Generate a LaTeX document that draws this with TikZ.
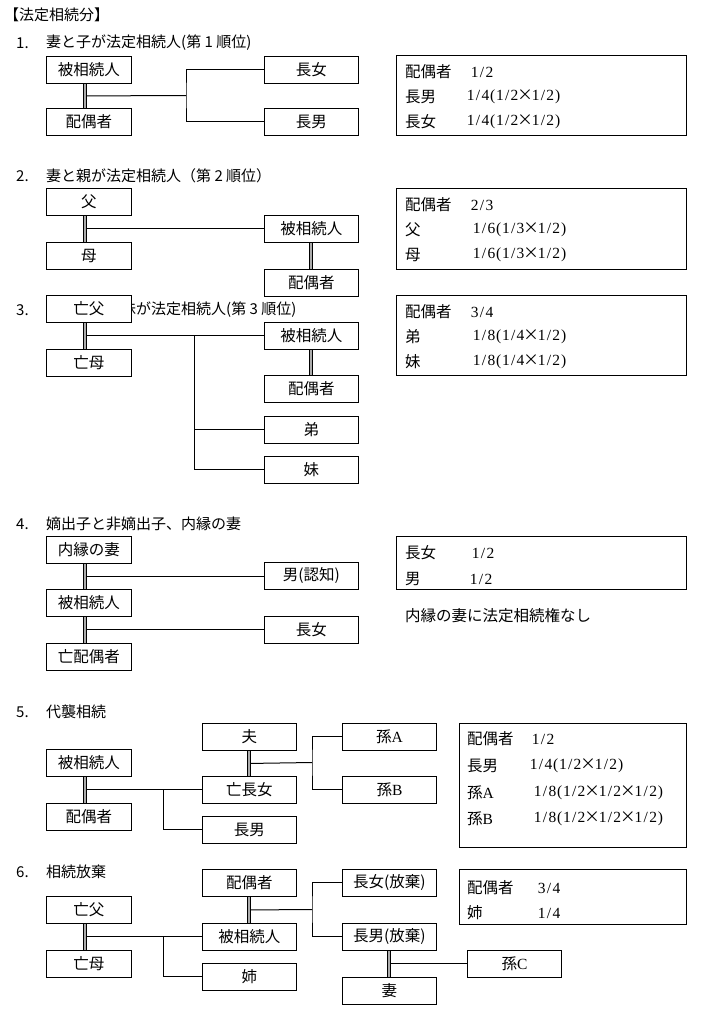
\documentclass[tikz,border=0pt]{standalone}
\usepackage{fontspec}
\setmainfont{Noto Sans CJK JP}
\newfontfamily\numf{Liberation Serif}
\newfontfamily\cjkf{Noto Sans CJK JP}
\usetikzlibrary{calc}
\newcommand\bxf{\fontsize{15.5}{18}\selectfont}
\newcommand\tif{\fontsize{15}{18}\selectfont}
\newcommand\nmf{\numf\fontsize{15.5}{18}\selectfont}
\newcommand\hwstr[1]{\hwloop#1\relax}
\def\hwloop#1{\ifx\relax#1\else\hwchar{#1}\expandafter\hwloop\fi}
\def\hwchar#1{\ifx×#1\makebox[0.9em]{\cjkf #1}\else\makebox[0.47em]{#1}\fi}
\tikzset{
  pb/.style={draw, line width=0.9pt, fill=white, inner sep=0pt, anchor=north west, font=\bxf, minimum height=27pt},
  lb/.style={pb, minimum width=85pt},
  mb/.style={pb, minimum width=94pt},
  tb/.style={draw, line width=0.9pt, inner sep=0pt, anchor=north west},
  tt/.style={anchor=west, inner sep=0pt, font=\bxf},
  tv/.style={anchor=west, inner sep=0pt, font=\nmf},
  ttl/.style={anchor=west, inner sep=0pt, font=\tif},
  ln/.style={line width=1pt},
  dl/.style={line width=1pt, double=gray!65, double distance=2pt},
}
\begin{document}
\begin{tikzpicture}[x=1pt,y=-1pt]
\useasboundingbox (0,0) rectangle (707,1020);
\fill[white] (0,0) rectangle (707,1020);

% headings
\node[ttl] (h0) at (4,15) {【法定相続分】};
\node[ttl] (n1) at (16,43) {1.};
\node[ttl] (s1) at (46,43) {妻と子が法定相続人(第 1 順位)};
\node[ttl] (n2) at (16,176) {2.};
\node[ttl] (s2) at (46,176) {妻と親が法定相続人（第 2 順位）};
\node[ttl] (n3) at (16,310) {3.};
\node[ttl] (s3) at (46,310) {妻と兄弟姉妹が法定相続人(第 3 順位)};
\node[ttl] (n4) at (16,524) {4.};
\node[ttl] (s4) at (46,524) {嫡出子と非嫡出子、内縁の妻};
\node[ttl] (n5) at (16,712) {5.};
\node[ttl] (s5) at (46,712) {代襲相続};
\node[ttl] (n6) at (16,872) {6.};
\node[ttl] (s6) at (46,872) {相続放棄};

% ---------- section 1
\node[lb] (a1) at (46,56) {被相続人};
\node[lb] (b1) at (46,108) {配偶者};
\node[mb] (c1) at (264,56) {長女};
\node[mb] (d1) at (264,108) {長男};
\coordinate (m1) at ($([xshift=-3.5pt]a1.south)!.5!([xshift=-3.5pt]b1.north)$);
\coordinate (j1) at (186,95.5);
\draw[ln] (m1) -- (j1);
\draw[ln] (c1.west) -| (j1) |- (d1.west);
\draw[dl] ([xshift=-3.5pt]a1.south) -- ([xshift=-3.5pt]b1.north);

\node[tb, minimum width=290pt, minimum height=80pt] (t1) at (396,55) {};
\node[tt] (t1a) at (405,72) {配偶者};
\node[tv] (t1av) at (471,72) {\hwstr{1/2}};
\node[tt] (t1b) at (405,97) {長男};
\node[tv] (t1bv) at (467,97) {\hwstr{1/4(1/2×1/2)}};
\node[tt] (t1c) at (405,122) {長女};
\node[tv] (t1cv) at (467,122) {\hwstr{1/4(1/2×1/2)}};

% ---------- section 2
\node[lb] (a2) at (46,188) {父};
\node[lb] (b2) at (46,242) {母};
\node[mb] (c2) at (264,215) {被相続人};
\node[mb] (d2) at (264,269) {配偶者};
\coordinate (m2) at ($([xshift=-3.5pt]a2.south)!.5!([xshift=-3.5pt]b2.north)$);
\draw[ln] (m2) -- (m2 -| c2.west);
\draw[dl] ([xshift=-3.5pt]a2.south) -- ([xshift=-3.5pt]b2.north);
\draw[dl] (c2.south) -- (d2.north);

\node[tb, minimum width=290pt, minimum height=81pt] (t2) at (396,188) {};
\node[tt] (t2a) at (405,205) {配偶者};
\node[tv] (t2av) at (471,205) {\hwstr{2/3}};
\node[tt] (t2b) at (405,230) {父};
\node[tv] (t2bv) at (473,230) {\hwstr{1/6(1/3×1/2)}};
\node[tt] (t2c) at (405,255) {母};
\node[tv] (t2cv) at (473,255) {\hwstr{1/6(1/3×1/2)}};

% ---------- section 3
\node[lb] (a3) at (46,295) {亡父};
\node[lb] (b3) at (46,349) {亡母};
\node[mb] (c3) at (264,322) {被相続人};
\node[mb] (d3) at (264,375) {配偶者};
\node[mb] (e3) at (264,416) {弟};
\node[mb] (f3) at (264,456) {妹};
\coordinate (m3) at ($([xshift=-3.5pt]a3.south)!.5!([xshift=-3.5pt]b3.north)$);
\coordinate (j3) at (194,335.5);
\draw[ln] (m3) -- (m3 -| c3.west);
\draw[ln] (j3) |- (e3.west);
\draw[ln] (j3) |- (f3.west);
\draw[dl] ([xshift=-3.5pt]a3.south) -- ([xshift=-3.5pt]b3.north);
\draw[dl] (c3.south) -- (d3.north);

\node[tb, minimum width=290pt, minimum height=80pt] (t3) at (396,295) {};
\node[tt] (t3a) at (405,312) {配偶者};
\node[tv] (t3av) at (471,312) {\hwstr{3/4}};
\node[tt] (t3b) at (405,337) {弟};
\node[tv] (t3bv) at (473,337) {\hwstr{1/8(1/4×1/2)}};
\node[tt] (t3c) at (405,362) {妹};
\node[tv] (t3cv) at (473,362) {\hwstr{1/8(1/4×1/2)}};

% ---------- section 4
\node[lb] (a4) at (46,536) {内縁の妻};
\node[lb] (b4) at (46,589) {被相続人};
\node[lb] (c4) at (46,643) {亡配偶者};
\node[mb] (d4) at (264,562) {男(認知)};
\node[mb] (e4) at (264,616) {長女};
\coordinate (m4a) at ($([xshift=-3.5pt]a4.south)!.5!([xshift=-3.5pt]b4.north)$);
\coordinate (m4b) at ($([xshift=-3.5pt]b4.south)!.5!([xshift=-3.5pt]c4.north)$);
\draw[ln] (m4a) -- (m4a -| d4.west);
\draw[ln] (m4b) -- (m4b -| e4.west);
\draw[dl] ([xshift=-3.5pt]a4.south) -- ([xshift=-3.5pt]b4.north);
\draw[dl] ([xshift=-3.5pt]b4.south) -- ([xshift=-3.5pt]c4.north);

\node[tb, minimum width=290pt, minimum height=53pt] (t4) at (396,536) {};
\node[tt] (t4a) at (405,553) {長女};
\node[tv] (t4av) at (472,553) {\hwstr{1/2}};
\node[tt] (t4b) at (405,579) {男};
\node[tv] (t4bv) at (470,579) {\hwstr{1/2}};
\node[tt] (note4) at (405,616) {内縁の妻に法定相続権なし};

% ---------- section 5
\node[lb] (a5) at (46,749) {被相続人};
\node[lb] (b5) at (46,803) {配偶者};
\node[mb] (c5) at (202,723) {夫};
\node[mb] (d5) at (202,776) {亡長女};
\node[mb] (e5) at (202,816) {長男};
\node[mb] (f5) at (342,723) {孫{\numf A}};
\node[mb] (g5) at (342,776) {孫{\numf B}};
\coordinate (m5) at ($([xshift=-3.5pt]a5.south)!.5!([xshift=-3.5pt]b5.north)$);
\coordinate (j5) at (163,789.5);
\draw[ln] (m5) -- (m5 -| d5.west);
\draw[ln] (j5) |- (e5.west);
\coordinate (m5b) at ($(c5.south)!.5!(d5.north)$);
\coordinate (k5) at (312,762.5);
\draw[ln] (m5b) -- (k5);
\draw[ln] (f5.west) -| (k5) |- (g5.west);
\draw[dl] ([xshift=-3.5pt]a5.south) -- ([xshift=-3.5pt]b5.north);
\draw[dl] (c5.south) -- (d5.north);

\node[tb, minimum width=227pt, minimum height=124pt] (t5) at (459,723) {};
\node[tt] (t5a) at (467,739) {配偶者};
\node[tv] (t5av) at (532,739) {\hwstr{1/2}};
\node[tt] (t5b) at (467,766) {長男};
\node[tv] (t5bv) at (530,766) {\hwstr{1/4(1/2×1/2)}};
\node[tt] (t5c) at (467,793) {孫{\numf A}};
\node[tv] (t5cv) at (534,793) {\hwstr{1/8(1/2×1/2×1/2)}};
\node[tt] (t5d) at (467,819) {孫{\numf B}};
\node[tv] (t5dv) at (534,819) {\hwstr{1/8(1/2×1/2×1/2)}};

% ---------- section 6
\node[lb] (a6) at (46,896) {亡父};
\node[lb] (b6) at (46,950) {亡母};
\node[mb] (c6) at (202,869) {配偶者};
\node[mb] (d6) at (202,923) {被相続人};
\node[mb] (e6) at (202,963) {姉};
\node[mb] (f6) at (342,869) {長女(放棄)};
\node[mb] (g6) at (342,923) {長男(放棄)};
\node[mb] (h6) at (342,977) {妻};
\node[mb] (i6) at (467,950) {孫{\numf C}};
\coordinate (m6) at ($([xshift=-3.5pt]a6.south)!.5!([xshift=-3.5pt]b6.north)$);
\coordinate (j6) at (163,936.5);
\draw[ln] (m6) -- (m6 -| d6.west);
\draw[ln] (j6) |- (e6.west);
\coordinate (m6b) at ($(c6.south)!.5!(d6.north)$);
\coordinate (k6) at (312,909.5);
\draw[ln] (m6b) -- (k6);
\draw[ln] (f6.west) -| (k6) |- (g6.west);
\coordinate (m6c) at ($(g6.south)!.5!(h6.north)$);
\draw[ln] (m6c) -- (m6c -| i6.west);
\draw[dl] ([xshift=-3.5pt]a6.south) -- ([xshift=-3.5pt]b6.north);
\draw[dl] (c6.south) -- (d6.north);
\draw[dl] (g6.south) -- (h6.north);

\node[tb, minimum width=227pt, minimum height=55pt] (t6) at (459,869) {};
\node[tt] (t6a) at (467,888) {配偶者};
\node[tv] (t6av) at (538,888) {\hwstr{3/4}};
\node[tt] (t6b) at (467,913) {姉};
\node[tv] (t6bv) at (538,913) {\hwstr{1/4}};
\end{tikzpicture}
\end{document}
